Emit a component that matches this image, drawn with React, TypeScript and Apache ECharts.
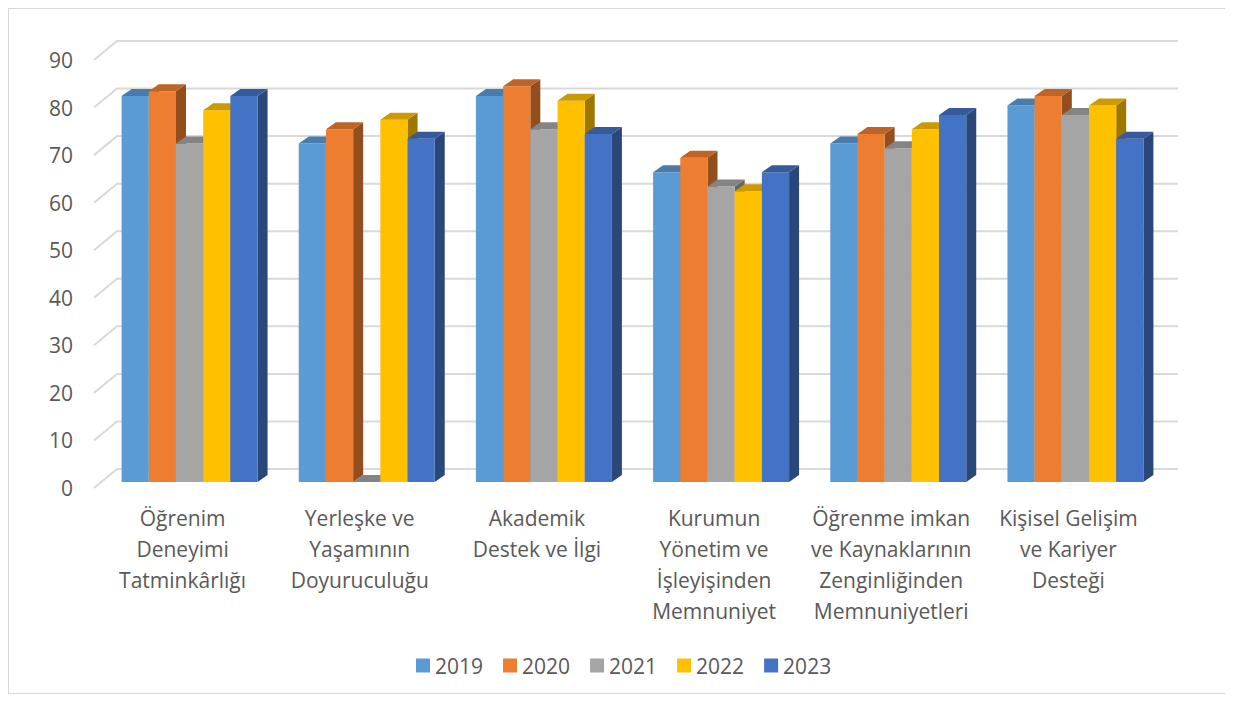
import React, { useEffect, useRef } from "react";
import * as echarts from "echarts";

const categories = [
  "Öğrenim\nDeneyimi\nTatminkârlığı",
  "Yerleşke ve\nYaşamının\nDoyuruculuğu",
  "Akademik\nDestek ve İlgi",
  "Kurumun\nYönetim ve\nİşleyişinden\nMemnuniyet",
  "Öğrenme imkan\nve Kaynaklarının\nZenginliğinden\nMemnuniyetleri",
  "Kişisel Gelişim\nve Kariyer\nDesteği",
];
const years = ["2019", "2020", "2021", "2022", "2023"];
const v2019 = [81, 71, 81, 65, 71, 79];
const v2020 = [82, 74, 83, 68, 73, 81];
const v2021 = [71, 0, 74, 62, 70, 77];
const v2022 = [78, 76, 80, 61, 74, 79];
const v2023 = [81, 72, 73, 65, 77, 72];
const yTicks = [0, 10, 20, 30, 40, 50, 60, 70, 80, 90];
const seriesValues = [v2019, v2020, v2021, v2022, v2023];
const colors = ["#5B9BD5", "#ED7D31", "#A5A5A5", "#FFC000", "#4472C4"];

function shade(hex: string, f: number) {
  const n = parseInt(hex.slice(1), 16);
  const r = Math.round(((n >> 16) & 255) * f);
  const g = Math.round(((n >> 8) & 255) * f);
  const b = Math.round((n & 255) * f);
  return `rgb(${r},${g},${b})`;
}

const FONT = "'Open Sans', Lato, sans-serif";
const TXT = "#595959";
const FS = 21;

export default function App() {
  const ref = useRef<HTMLDivElement>(null);
  useEffect(() => {
    if (!ref.current) return;
    const chart = echarts.init(ref.current, null, { renderer: "svg" });
    const DX = 10;
    const DY = -7;
    const barSeries = years.map((yr, si) => ({
      name: yr,
      type: "custom",
      xAxisIndex: 1,
      yAxisIndex: 1,
      itemStyle: { color: colors[si] },
      clip: false,
      data: seriesValues[si].map((v, ci) => [ci, v]),
      renderItem: (params: any, api: any) => {
        const cat = api.value(0);
        const val = api.value(1);
        const base = api.coord([cat, 0]);
        const top = api.coord([cat, val]);
        const band = api.size([1, 0])[0];
        const w = band * 0.1535;
        const x0 = base[0] - 2.5 * w + si * w;
        const x1 = x0 + w;
        const yb = base[1];
        const yt = top[1];
        const c = colors[si];
        return {
          type: "group",
          children: [
            {
              type: "polygon",
              shape: { points: [[x1, yb], [x1 + DX, yb + DY], [x1 + DX, yt + DY], [x1, yt]] },
              style: { fill: shade(c, 0.62) },
            },
            {
              type: "rect",
              shape: { x: x0, y: yt, width: w, height: yb - yt },
              style: { fill: c },
            },
            {
              type: "polygon",
              shape: { points: [[x0, yt], [x0 + DX, yt + DY], [x1 + DX, yt + DY], [x1, yt]] },
              style: { fill: shade(c, 0.8) },
            },
          ],
        };
      },
    }));

    chart.setOption({
      animation: false,
      backgroundColor: "#ffffff",
      textStyle: { fontFamily: FONT },
      legend: {
        data: years,
        left: 402,
        top: 641,
        icon: "rect",
        itemWidth: 14,
        itemHeight: 14,
        itemGap: 20,
        itemStyle: { borderWidth: 0 },
        textStyle: { fontSize: FS, color: TXT, fontFamily: FONT },
      },
      grid: [
        { left: 85, top: 51, width: 1063, height: 428 },
        { left: 92, top: 44, width: 1063, height: 429 },
      ],
      xAxis: [
        {
          gridIndex: 0,
          type: "category",
          data: categories,
          axisLine: { show: false },
          axisTick: { show: false },
          splitLine: { show: false },
          axisLabel: {
            interval: 0,
            fontSize: FS,
            lineHeight: 31,
            color: TXT,
            margin: 14,
            fontFamily: FONT,
          },
        },
        {
          gridIndex: 1,
          type: "category",
          data: categories,
          show: false,
        },
      ],
      yAxis: [
        {
          gridIndex: 0,
          type: "value",
          min: 0,
          max: 90,
          interval: 10,
          axisLine: { show: false },
          axisTick: { show: false },
          splitLine: { show: false },
          axisLabel: { fontSize: FS, color: TXT, margin: 21, fontFamily: FONT },
        },
        {
          gridIndex: 1,
          type: "value",
          min: 0,
          max: 90,
          interval: 10,
          show: false,
        },
      ],
      series: [
        {
          name: "walls",
          type: "custom",
          xAxisIndex: 0,
          yAxisIndex: 0,
          silent: true,
          clip: false,
          data: yTicks.map((v) => [0, v]),
          renderItem: (params: any, api: any) => {
            const y = api.coord([0, api.value(1)])[1];
            const cs = params.coordSys;
            const x = cs.x;
            return {
              type: "polyline",
              shape: {
                points: [
                  [x, y],
                  [x + 23, y - 19],
                  [x + 23 + 1061, y - 19],
                ],
              },
              style: { stroke: "#d9d9d9", lineWidth: 2, fill: "none" },
            };
          },
        },
        ...barSeries,
      ],
    });
    return () => chart.dispose();
  }, []);

  return (
    <div
      style={{
        width: 1223,
        height: 686,
        boxSizing: "border-box",
        border: "1px solid #d9d9d9",
        background: "#fff",
      }}
    >
      <div ref={ref} style={{ width: 1221, height: 684 }} />
    </div>
  );
}
